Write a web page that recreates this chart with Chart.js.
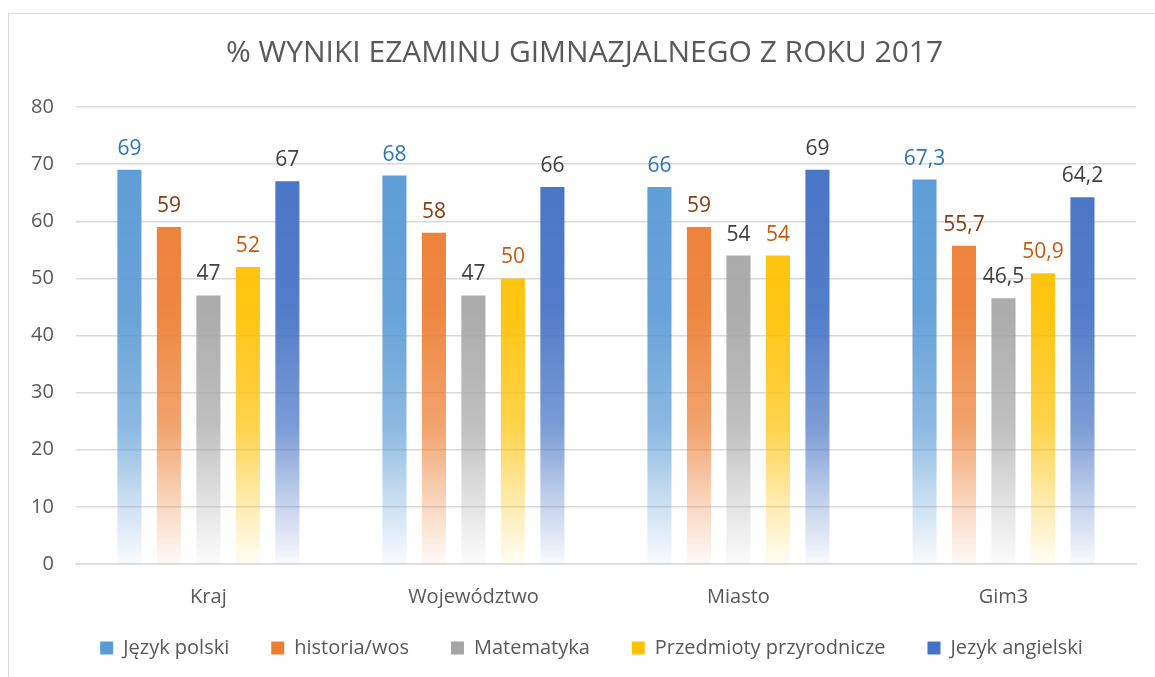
<!DOCTYPE html>
<html>
<head>
<meta charset="utf-8">
<script src="https://cdn.jsdelivr.net/npm/chart.js@4"></script>
<style>
  html, body { margin: 0; padding: 0; background: #fff; overflow: hidden; }
  #wrap { position: absolute; left: 8px; top: 13px; width: 1160px; height: 680px; border: 1px solid #d9d9d9; box-sizing: border-box; }
</style>
</head>
<body>
<div id="wrap"><canvas id="chart" width="1140" height="657"></canvas></div>
<script>
const categories = ["Kraj", "Województwo", "Miasto", "Gim3"];
const seriesNames = ["Język polski", "historia/wos", "Matematyka", "Przedmioty przyrodnicze", "Jezyk angielski"];
const polski = [69, 68, 66, 67.3];
const historia = [59, 58, 59, 55.7];
const matematyka = [47, 47, 54, 46.5];
const przyrodnicze = [52, 50, 54, 50.9];
const angielski = [67, 66, 69, 64.2];
const yTicks = [0, 10, 20, 30, 40, 50, 60, 70, 80];

const barColors = ["#5B9BD5", "#ED7D31", "#A5A5A5", "#FFC000", "#4472C4"];
const labelColors = ["#2E75B6", "#843C0C", "#404040", "#C55A11", "#404040"];

function rgba(hex, a) {
    const n = parseInt(hex.slice(1), 16);
    return "rgba(" + (n >> 16) + "," + ((n >> 8) & 255) + "," + (n & 255) + "," + a + ")";
}

const gradCache = {};
function fadeFill(i) {
    return function (ctx) {
        const chart = ctx.chart;
        const area = chart.chartArea;
        if (!area) return barColors[i];
        const key = i + ":" + area.top + ":" + area.bottom;
        if (gradCache[key]) return gradCache[key];
        const g = chart.ctx.createLinearGradient(0, area.bottom, 0, area.top);
        g.addColorStop(0, rgba(barColors[i], 0.04));
        g.addColorStop(0.15, rgba(barColors[i], 0.35));
        g.addColorStop(0.3, rgba(barColors[i], 0.7));
        g.addColorStop(0.55, rgba(barColors[i], 0.92));
        g.addColorStop(1, rgba(barColors[i], 1));
        gradCache[key] = g;
        return g;
    };
}

const valueLabels = {
    id: "valueLabels",
    afterLayout(chart) {
        // the original centres title and legend a bit to the right of the plot
        chart.titleBlock.left += 12;
        chart.titleBlock.right += 12;
        chart.legend.left += 19;
        chart.legend.right += 19;
    },
    afterDatasetsDraw(chart) {
        const ctx = chart.ctx;
        ctx.save();
        ctx.font = "21px 'Open Sans'";
        ctx.textAlign = "center";
        ctx.textBaseline = "middle";
        chart.data.datasets.forEach(function (ds, i) {
            const meta = chart.getDatasetMeta(i);
            ctx.fillStyle = labelColors[i];
            meta.data.forEach(function (bar, j) {
                const txt = String(ds.data[j]).replace(".", ",");
                ctx.fillText(txt, bar.x, bar.y - 21);
            });
        });
        ctx.restore();
    }
};

const allSeries = [polski, historia, matematyka, przyrodnicze, angielski];

new Chart(document.getElementById("chart"), {
    type: "bar",
    data: {
        labels: categories,
        datasets: allSeries.map(function (d, i) {
            return {
                label: seriesNames[i],
                data: d,
                backgroundColor: fadeFill(i),
                borderWidth: 0,
                categoryPercentage: 0.745,
                barPercentage: 0.61
            };
        })
    },
    options: {
        responsive: false,
        animation: false,
        layout: { padding: { left: 0, right: 13, top: 0, bottom: 3 } },
        plugins: {
            title: {
                display: true,
                text: "% WYNIKI EZAMINU GIMNAZJALNEGO Z ROKU 2017",
                color: "#595959",
                font: { family: "'Open Sans'", size: 30, weight: "normal" },
                padding: { top: 21, bottom: 36 }
            },
            legend: {
                position: "bottom",
                labels: {
                    color: "#595959",
                    font: { family: "'Open Sans'", size: 20 },
                    boxWidth: 13,
                    boxHeight: 13,
                    padding: 16,
                    generateLabels: function (chart) {
                        const n = chart.data.datasets.length;
                        return chart.data.datasets.map(function (ds, i) {
                            return {
                                // trailing spaces widen the gap between legend items
                                text: i < n - 1 ? ds.label + "     " : ds.label,
                                fillStyle: barColors[i],
                                strokeStyle: barColors[i],
                                lineWidth: 0,
                                fontColor: "#595959",
                                datasetIndex: i
                            };
                        });
                    }
                }
            },
            tooltip: { enabled: false }
        },
        scales: {
            x: {
                grid: { display: false },
                border: { color: "#d9d9d9", width: 1.5 },
                ticks: { color: "#595959", font: { family: "'Open Sans'", size: 20 }, padding: 13 }
            },
            y: {
                min: 0,
                max: 80,
                afterBuildTicks: function (axis) {
                    axis.ticks = yTicks.map(function (v) { return { value: v }; });
                },
                grid: { color: "#d9d9d9", lineWidth: 1.5, drawTicks: false },
                border: { display: false },
                ticks: { color: "#595959", font: { family: "'Open Sans'", size: 20 }, padding: 22 }
            }
        }
    },
    plugins: [valueLabels]
});
</script>
</body>
</html>
